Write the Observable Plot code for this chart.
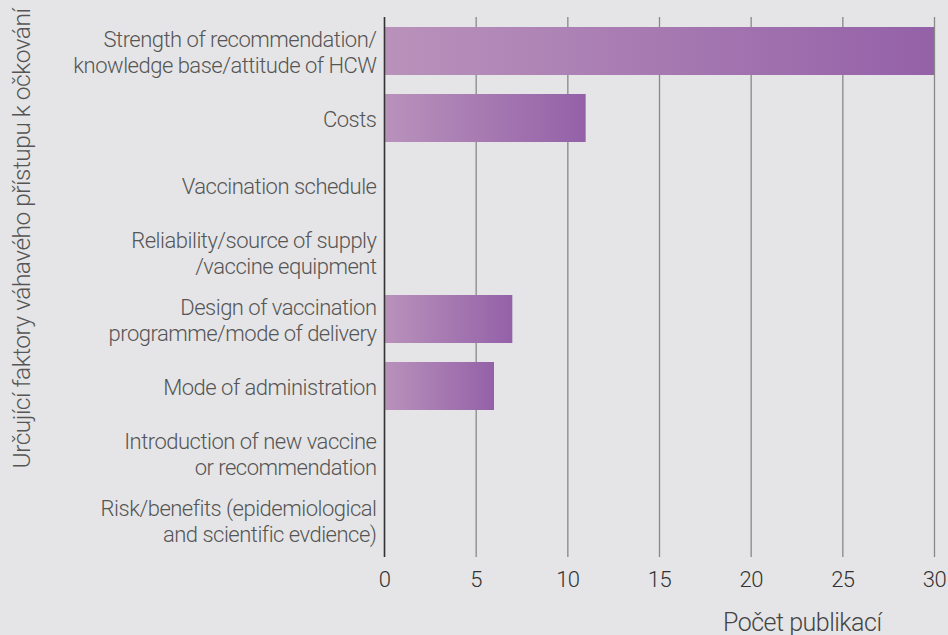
<!DOCTYPE html>
<html>
<head>
<meta charset="utf-8">
<script src="https://cdn.jsdelivr.net/npm/d3@7"></script>
<script src="https://cdn.jsdelivr.net/npm/@observablehq/plot@0.6"></script>
<style>
  html, body { margin: 0; padding: 0; background: #e5e5e7; }
  #chart svg { display: block; }
</style>
</head>
<body>
<div id="chart"></div>
<script>
const categories = [
  "Strength of recommendation/\nknowledge base/attitude of HCW",
  "Costs",
  "Vaccination schedule",
  "Reliability/source of supply\n/vaccine equipment",
  "Design of vaccination\nprogramme/mode of delivery",
  "Mode of administration",
  "Introduction of new vaccine\nor recommendation",
  "Risk/benefits (epidemiological\nand scientific evdience)"
];
const counts = [30, 11, 0, 0, 7, 6, 0, 0];
const xTicks = [0, 5, 10, 15, 20, 25, 30];
const xLabel = "Počet publikací";
const yLabel = "Určující faktory váhavého přístupu k očkování";

const data = categories.map((c, i) => ({category: c, count: counts[i]}));

const gradientDefs = (index, scales, values, dimensions, context) => {
  const ns = "http://www.w3.org/2000/svg";
  const doc = context.document;
  const defs = doc.createElementNS(ns, "defs");
  const lg = doc.createElementNS(ns, "linearGradient");
  lg.setAttribute("id", "barGrad");
  lg.setAttribute("x1", "0"); lg.setAttribute("x2", "1");
  lg.setAttribute("y1", "0"); lg.setAttribute("y2", "0");
  [["0%", "#b992bb"], ["100%", "#9461a8"]].forEach(([o, c]) => {
    const s = doc.createElementNS(ns, "stop");
    s.setAttribute("offset", o); s.setAttribute("stop-color", c);
    lg.appendChild(s);
  });
  defs.appendChild(lg);
  return defs;
};

const chart = Plot.plot({
  width: 948,
  height: 635,
  marginLeft: 384,
  marginRight: 14,
  marginTop: 17,
  marginBottom: 78,
  style: {background: "#e5e5e7", fontFamily: "Roboto, sans-serif", fontWeight: 300, fontSize: "22px", color: "#555", letterSpacing: "-0.5px"},
  x: {domain: [0, 30]},
  y: {domain: categories, paddingInner: 0.277, paddingOuter: 0.139, align: 0.465},
  marks: [
    gradientDefs,
    Plot.gridX(xTicks, {stroke: "#888", strokeOpacity: 1, strokeWidth: 1.3}),
    Plot.barX(data, {x: "count", y: "category", fill: "url(#barGrad)"}),
    Plot.ruleX([0], {stroke: "#333", strokeWidth: 1.5}),
    Plot.axisX({ticks: xTicks, tickSize: 0, tickPadding: 14, label: null, fontSize: 22, fill: "#333"}),
    Plot.axisY({tickSize: 0, tickPadding: 8, label: null, lineHeight: 1.2, fill: "#555"}),
    Plot.text([xLabel], {frameAnchor: "bottom-right", dx: -53, dy: 73, fill: "#444", fontSize: 25}),
    Plot.text([yLabel], {frameAnchor: "left", textAnchor: "middle", rotate: -90, dx: -362, dy: -49, fill: "#555", fontSize: 24.5})
  ]
});
document.getElementById("chart").appendChild(chart);
</script>
</body>
</html>
